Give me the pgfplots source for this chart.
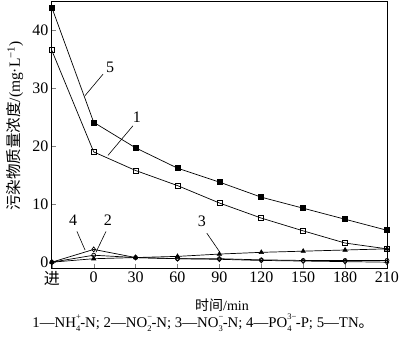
\documentclass[border=0pt]{standalone}
\usepackage{fontspec}
\setmainfont{Liberation Serif}
\newfontfamily\cjk{Noto Sans CJK SC}
\usepackage{pgfplots}
\pgfplotsset{compat=1.18}
\newcommand\supsub[2]{\rlap{\raisebox{0.5em}{\fontsize{8.5}{8.5}\selectfont #1}}\raisebox{-0.32em}{\fontsize{8.5}{8.5}\selectfont #2}}
\begin{document}
\begin{tikzpicture}[x=1pt,y=1pt]
\useasboundingbox (-51.8,-70) rectangle (348.2,268);
\begin{axis}[
  at={(0,0)}, anchor=south west, scale only axis,
  width=335.2pt, height=267pt,
  xmin=-30, xmax=210, ymin=-1, ymax=45,
  xtick={-30,0,30,60,90,120,150,180,210},
  xticklabels={{\cjk 进},0,30,60,90,120,150,180,210},
  ytick={0,10,20,30,40},
  xtick pos=bottom, ytick pos=left,
  tick align=inside, major tick length=4pt,
  tick label style={font=\fontsize{16}{16}\selectfont},
  /pgf/number format/assume math mode=true,
  clip=false,
  axis line style={line width=0.8pt},
  every axis plot/.append style={black, line width=0.7pt},
  mark options={solid, line width=0.6pt},
]
\addplot[mark=square*, mark size=2.5pt] coordinates {(-30,43.9)(0,24.1)(30,19.7)(60,16.2)(90,13.8)(120,11.2)(150,9.3)(180,7.4)(210,5.5)};
\addplot[mark=square, mark size=2.5pt, mark options={fill=white}] coordinates {(-30,36.5)(0,19.0)(30,15.8)(60,13.2)(90,10.2)(120,7.6)(150,5.4)(180,3.3)(210,2.3)};
\addplot[mark=triangle*, mark size=2.5pt] coordinates {(-30,0)(0,0.6)(30,0.8)(60,1.0)(90,1.4)(120,1.7)(150,1.9)(180,2.1)(210,2.3)};
\addplot[mark=diamond, mark size=2.5pt, mark options={fill=white}] coordinates {(-30,0)(0,2.2)(30,0.8)(60,0.6)(90,0.5)(120,0.3)(150,0.2)(180,0.1)(210,0.0)};
\addplot[mark=o, mark size=2pt, mark options={fill=white}] coordinates {(-30,0)(0,1.2)(30,0.8)(60,0.6)(90,0.6)(120,0.4)(150,0.3)(180,0.3)(210,0.3)};
% labels
\begin{scope}[font=\fontsize{16}{16}\selectfont]
\node at (axis cs:11.7,33.6) {5};
\draw[line width=0.6pt] (axis cs:-6.2,28.7) -- (axis cs:6.7,32.4);
\node at (axis cs:31,25.0) {1};
\draw[line width=0.6pt] (axis cs:10.2,18.4) -- (axis cs:28.1,23.5);
\node at (axis cs:-14.8,7.2) {4};
\draw[line width=0.6pt] (axis cs:-12,5.3) -- (axis cs:-6.2,2.1);
\node at (axis cs:10.2,7.2) {2};
\draw[line width=0.6pt] (axis cs:8.8,5.3) -- (axis cs:1.6,1.7);
\node at (axis cs:77.5,7.0) {3};
\draw[line width=0.6pt] (axis cs:81,5.0) -- (axis cs:90.4,1.7);
\end{scope}
\end{axis}
\node[rotate=90, font=\fontsize{15.5}{15.5}\selectfont] at (-36.8,142) {{\cjk 污染物质量浓度}/(mg·L\textsuperscript{−1})};
\node[font=\fontsize{14}{14}\selectfont] at (170.2,-37) {{\cjk 时间}/min};
\node[font=\fontsize{14.8}{14.8}\selectfont] at (151.2,-55) {1—NH\supsub{+}{4}-N; 2—NO\supsub{−}{2}-N; 3—NO\supsub{−}{3}-N; 4—PO\supsub{3−}{4}\hphantom{\fontsize{8.5}{8.5}\selectfont 3}-P; 5—TN{\cjk 。}};
\end{tikzpicture}
\end{document}
